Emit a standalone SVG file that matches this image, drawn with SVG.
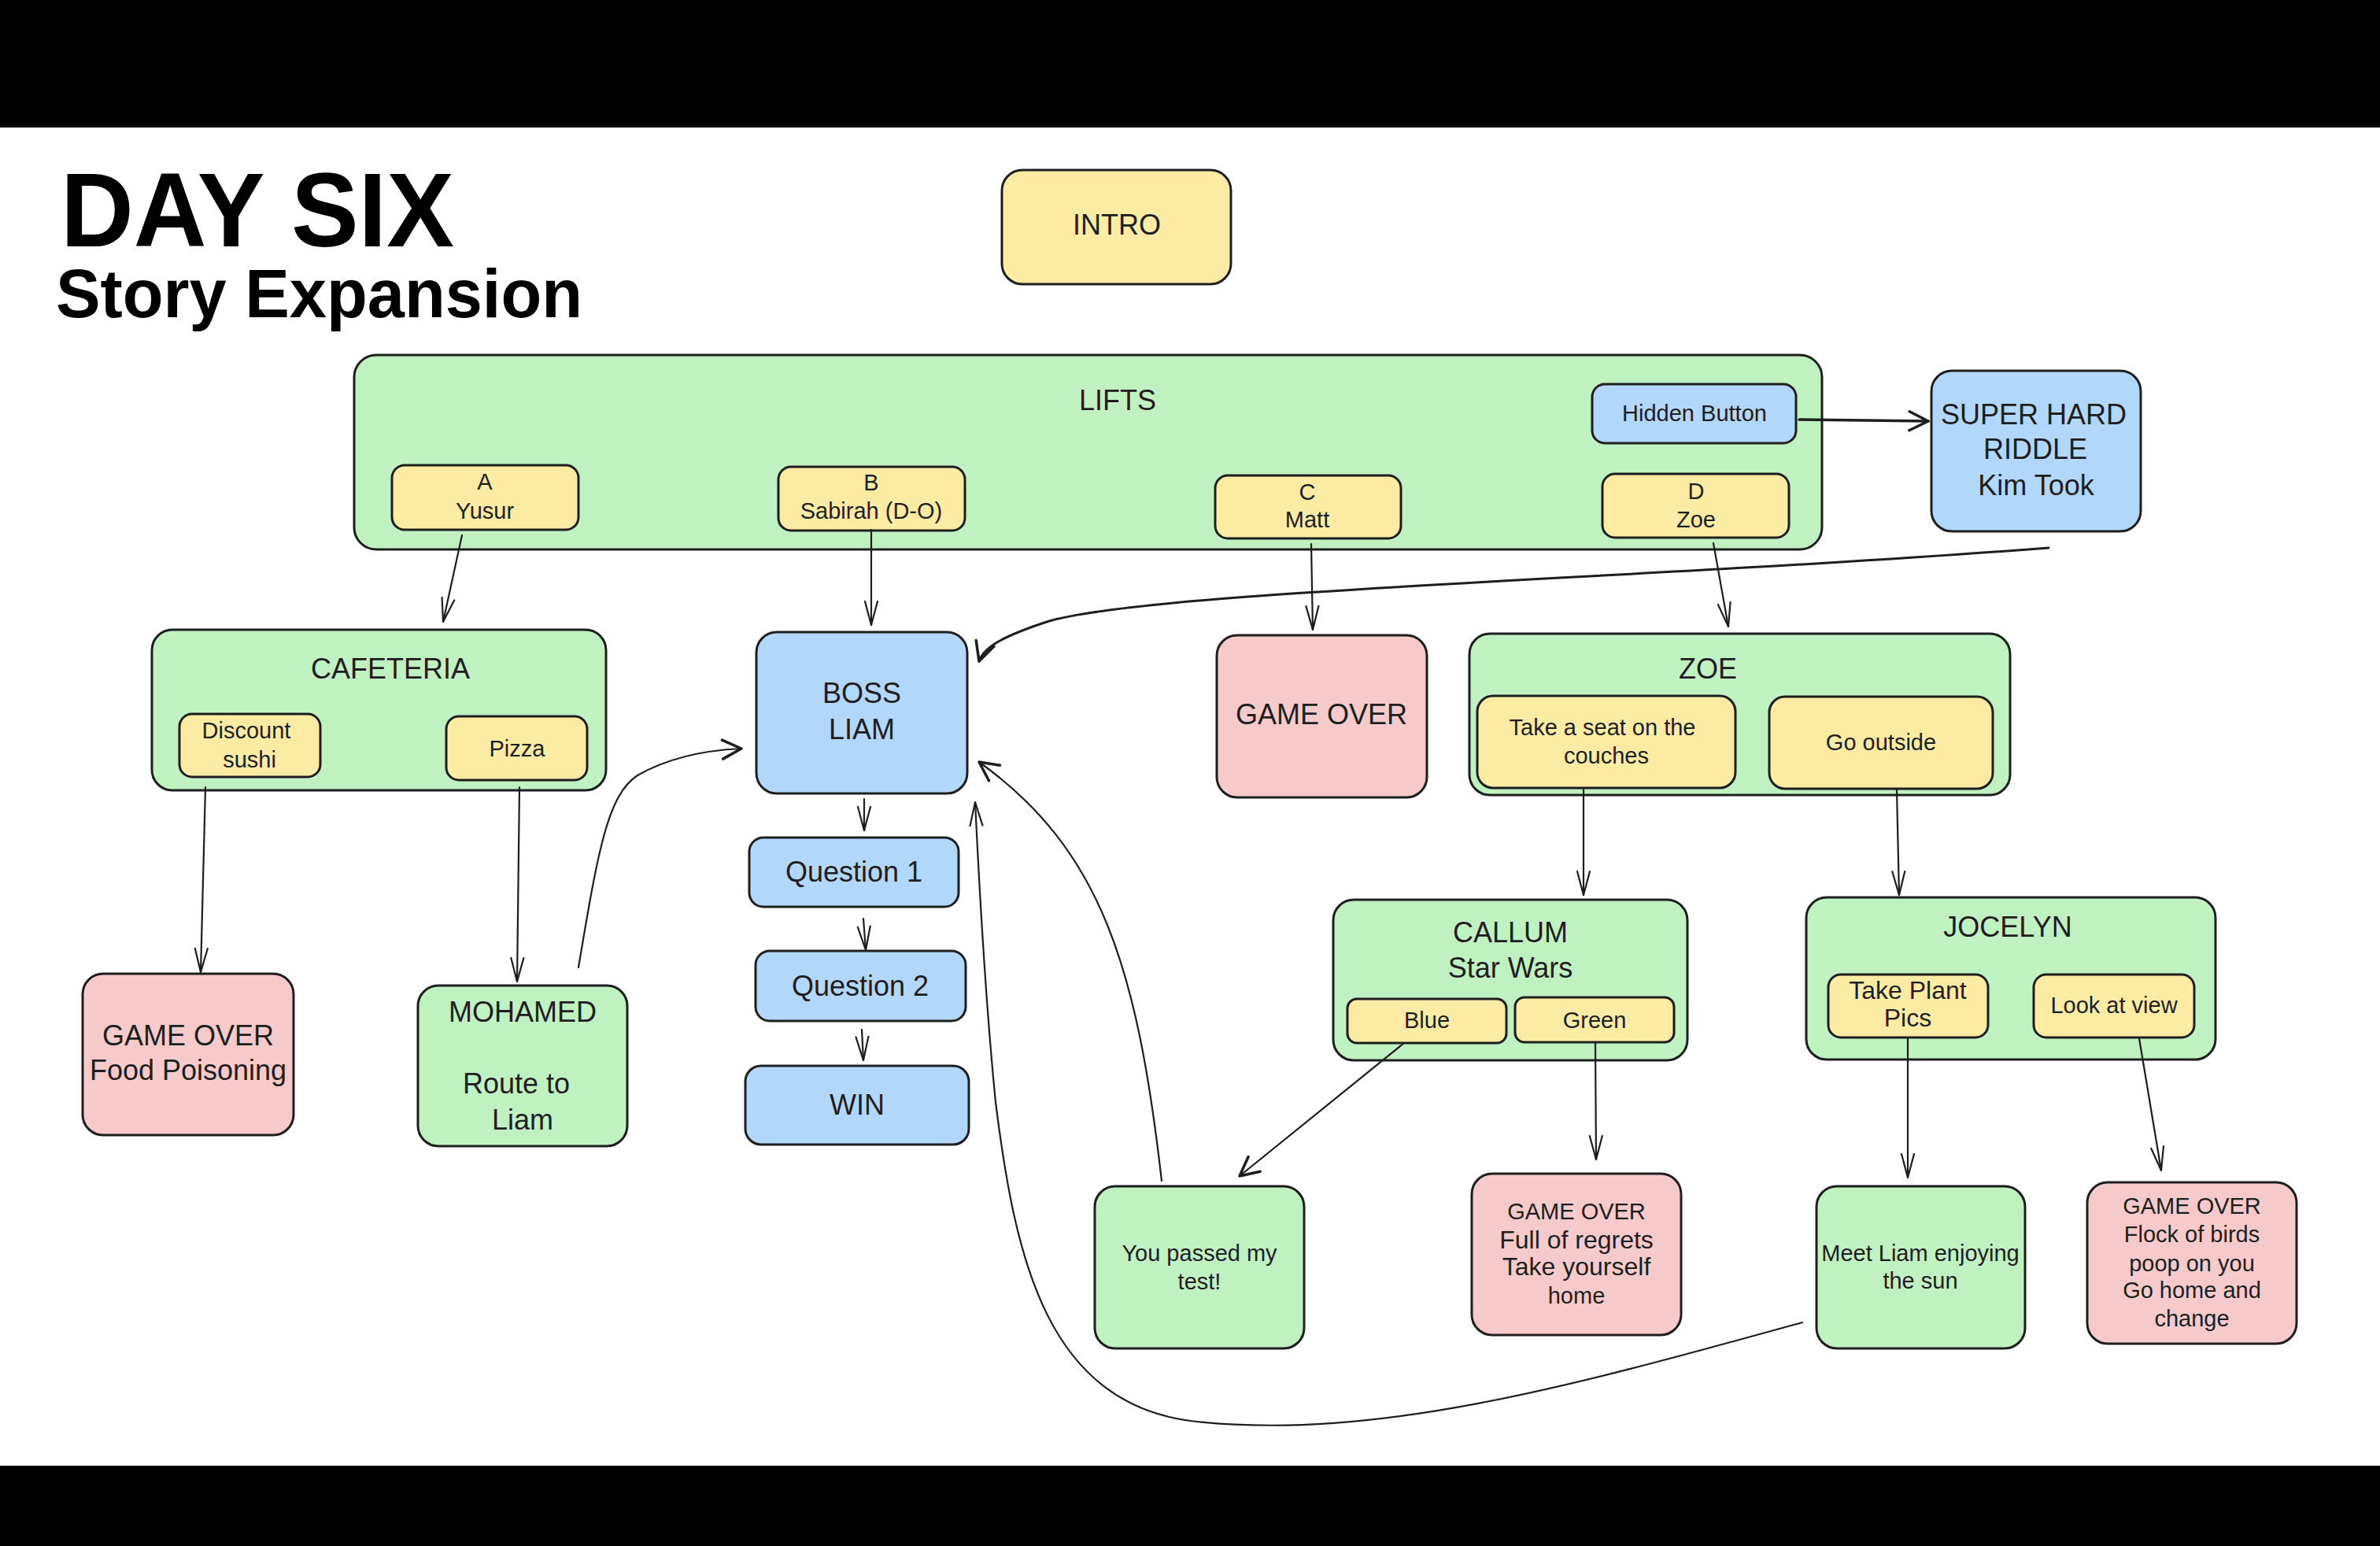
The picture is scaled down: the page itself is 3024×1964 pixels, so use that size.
<svg xmlns="http://www.w3.org/2000/svg" width="3024" height="1964" viewBox="0 0 3024 1964">
<defs>
<style>
.box{stroke:#1e1e1e;stroke-width:3;stroke-linejoin:round}
.y{fill:#fcebA2}
.g{fill:#c0f1c0}
.b{fill:#b1d7fb}
.r{fill:#f6caca}
.t{font-family:"Liberation Sans",Arial,sans-serif;fill:#1e1e1e;text-anchor:middle;dominant-baseline:central}
.s{font-size:29px}
.m{font-size:32px}
.l{font-size:36px}
.c{fill:none;stroke:#1e1e1e;stroke-width:2.2;stroke-linecap:round}
.title{font-family:"Liberation Sans",Arial,sans-serif;font-weight:bold;fill:#000}
</style>
<marker id="ah" markerUnits="userSpaceOnUse" viewBox="0 0 32 20" refX="31" refY="10" markerWidth="32" markerHeight="20" orient="auto">
<path d="M1,2 L31,10 L1,18" fill="none" stroke="#1e1e1e" stroke-width="2.2" stroke-linecap="round" stroke-linejoin="round"/>
</marker>
<marker id="ah2" markerUnits="userSpaceOnUse" viewBox="0 0 32 30" refX="30" refY="15" markerWidth="32" markerHeight="30" orient="auto">
<path d="M6,3 L30,15 L6,27" fill="none" stroke="#1e1e1e" stroke-width="3.5" stroke-linecap="round" stroke-linejoin="round"/>
</marker>
</defs>
<rect x="0" y="0" width="3024" height="1964" fill="#ffffff"/>
<rect x="0" y="0" width="3024" height="162" fill="#000000"/>
<rect x="0" y="1862" width="3024" height="102" fill="#000000"/>
<text class="title" x="77" y="313" font-size="134" textLength="500" lengthAdjust="spacingAndGlyphs">DAY SIX</text>
<text class="title" x="71" y="403" font-size="88" textLength="669" lengthAdjust="spacingAndGlyphs">Story Expansion</text>

<g id="intro"><rect class="box y" x="1273" y="216" width="291" height="145" rx="26"/><text class="t l" x="1419" y="285">INTRO</text></g>

<g id="lifts"><rect class="box g" x="450" y="451" width="1865" height="247" rx="28"/><text class="t l" x="1420" y="508">LIFTS</text></g>
<g id="lift-a"><rect class="box y" x="498" y="591" width="237" height="82" rx="16"/><text class="t s" x="616" y="612">A</text><text class="t s" x="616" y="649">Yusur</text></g>
<g id="lift-b"><rect class="box y" x="989" y="593" width="237" height="81" rx="16"/><text class="t s" x="1107" y="613">B</text><text class="t s" x="1107" y="649">Sabirah (D-O)</text></g>
<g id="lift-c"><rect class="box y" x="1544" y="604" width="236" height="80" rx="16"/><text class="t s" x="1661" y="625">C</text><text class="t s" x="1661" y="660">Matt</text></g>
<g id="lift-d"><rect class="box y" x="2036" y="602" width="237" height="81" rx="16"/><text class="t s" x="2155" y="624">D</text><text class="t s" x="2155" y="660">Zoe</text></g>
<g id="hidden-button"><rect class="box b" x="2023" y="488" width="259" height="75" rx="16"/><text class="t s" x="2153" y="525">Hidden Button</text></g>
<g id="riddle"><rect class="box b" x="2454" y="471" width="266" height="204" rx="26"/><text class="t l" x="2584" y="526">SUPER HARD</text><text class="t l" x="2586" y="570">RIDDLE</text><text class="t l" x="2587" y="616">Kim Took</text></g>

<g id="cafeteria"><rect class="box g" x="193" y="800" width="577" height="204" rx="26"/><text class="t l" x="496" y="849">CAFETERIA</text></g>
<g id="discount-sushi"><rect class="box y" x="228" y="907" width="179" height="80" rx="16"/><text class="t s" x="313" y="928">Discount</text><text class="t s" x="317" y="965">sushi</text></g>
<g id="pizza"><rect class="box y" x="567" y="910" width="179" height="81" rx="16"/><text class="t s" x="657" y="951">Pizza</text></g>
<g id="boss-liam"><rect class="box b" x="961" y="803" width="268" height="205" rx="26"/><text class="t l" x="1095" y="880">BOSS</text><text class="t l" x="1095" y="926">LIAM</text></g>
<g id="game-over-c"><rect class="box r" x="1546" y="807" width="267" height="206" rx="26"/><text class="t l" x="1679" y="907">GAME OVER</text></g>
<g id="zoe"><rect class="box g" x="1867" y="805" width="687" height="205" rx="26"/><text class="t l" x="2170" y="849">ZOE</text></g>
<g id="take-seat"><rect class="box y" x="1877" y="884" width="328" height="117" rx="20"/><text class="t s" x="2036" y="924">Take a seat on the</text><text class="t s" x="2041" y="960">couches</text></g>
<g id="go-outside"><rect class="box y" x="2248" y="885" width="284" height="117" rx="20"/><text class="t s" x="2390" y="943">Go outside</text></g>

<g id="game-over-food"><rect class="box r" x="105" y="1237" width="268" height="205" rx="26"/><text class="t l" x="239" y="1315">GAME OVER</text><text class="t l" x="239" y="1359">Food Poisoning</text></g>
<g id="mohamed"><rect class="box g" x="531" y="1252" width="266" height="204" rx="26"/><text class="t l" x="664" y="1285">MOHAMED</text><text class="t l" x="656" y="1376">Route to</text><text class="t l" x="664" y="1422">Liam</text></g>
<g id="question-1"><rect class="box b" x="952" y="1064" width="266" height="88" rx="18"/><text class="t l" x="1085" y="1107">Question 1</text></g>
<g id="question-2"><rect class="box b" x="960" y="1208" width="267" height="89" rx="18"/><text class="t l" x="1093" y="1252">Question 2</text></g>
<g id="win"><rect class="box b" x="947" y="1354" width="284" height="100" rx="20"/><text class="t l" x="1089" y="1403">WIN</text></g>

<g id="callum"><rect class="box g" x="1694" y="1143" width="450" height="204" rx="26"/><text class="t l" x="1919" y="1184">CALLUM</text><text class="t l" x="1919" y="1229">Star Wars</text></g>
<g id="blue"><rect class="box y" x="1712" y="1269" width="202" height="56" rx="12"/><text class="t s" x="1813" y="1296">Blue</text></g>
<g id="green"><rect class="box y" x="1925" y="1267" width="202" height="57" rx="12"/><text class="t s" x="2026" y="1296">Green</text></g>
<g id="jocelyn"><rect class="box g" x="2295" y="1140" width="520" height="206" rx="26"/><text class="t l" x="2551" y="1177">JOCELYN</text></g>
<g id="take-plant-pics"><rect class="box y" x="2323" y="1238" width="203" height="80" rx="16"/><text class="t m" x="2424" y="1258">Take Plant</text><text class="t m" x="2424" y="1293">Pics</text></g>
<g id="look-at-view"><rect class="box y" x="2584" y="1238" width="204" height="80" rx="16"/><text class="t s" x="2686" y="1277">Look at view</text></g>

<g id="you-passed"><rect class="box g" x="1391" y="1507" width="266" height="206" rx="26"/><text class="t s" x="1524" y="1592">You passed my</text><text class="t s" x="1524" y="1628">test!</text></g>
<g id="game-over-regrets"><rect class="box r" x="1870" y="1491" width="266" height="205" rx="26"/><text class="t s" x="2003" y="1539">GAME OVER</text><text class="t m" x="2003" y="1575">Full of regrets</text><text class="t m" x="2003" y="1609">Take yourself</text><text class="t s" x="2003" y="1646">home</text></g>
<g id="meet-liam"><rect class="box g" x="2308" y="1507" width="265" height="206" rx="26"/><text class="t s" x="2440" y="1592">Meet Liam enjoying</text><text class="t s" x="2440" y="1627">the sun</text></g>
<g id="game-over-birds"><rect class="box r" x="2652" y="1502" width="266" height="205" rx="26"/><text class="t s" x="2785" y="1532">GAME OVER</text><text class="t s" x="2785" y="1568">Flock of birds</text><text class="t s" x="2785" y="1605">poop on you</text><text class="t s" x="2785" y="1639">Go home and</text><text class="t s" x="2785" y="1675">change</text></g>

<g id="connectors">
<path class="c" marker-end="url(#ah)" d="M587,680 L563,790"/>
<path class="c" marker-end="url(#ah)" d="M1107,673 L1107,794"/>
<path class="c" marker-end="url(#ah)" d="M1666,691 L1668,800"/>
<path class="c" marker-end="url(#ah)" d="M2177,690 L2196,796"/>
<path class="c" style="stroke-width:3.5" marker-end="url(#ah2)" d="M2286,533 L2450,535"/>
<path class="c" style="stroke-width:3" marker-end="url(#ah2)" d="M2603,696 C2100,735 1460,750 1330,790 C1275,808 1250,822 1244,840"/>
<path class="c" marker-end="url(#ah)" d="M261,1000 L255,1235"/>
<path class="c" marker-end="url(#ah)" d="M660,1000 L657,1247"/>
<path class="c" marker-end="url(#ah2)" d="M735,1229 C760,1080 772,1010 810,985 C850,962 900,953 942,951"/>
<path class="c" marker-end="url(#ah)" d="M1098,1015 L1098,1055"/>
<path class="c" marker-end="url(#ah)" d="M1097,1167 L1100,1207"/>
<path class="c" marker-end="url(#ah)" d="M1095,1308 L1097,1347"/>
<path class="c" marker-end="url(#ah)" d="M2012,1003 L2012,1137"/>
<path class="c" marker-end="url(#ah)" d="M2410,1003 L2413,1137"/>
<path class="c" marker-end="url(#ah2)" d="M1784,1325 L1575,1494"/>
<path class="c" marker-end="url(#ah)" d="M2027,1325 L2028,1473"/>
<path class="c" marker-end="url(#ah)" d="M2424,1319 L2424,1496"/>
<path class="c" marker-end="url(#ah)" d="M2718,1319 L2746,1487"/>
<path class="c" marker-end="url(#ah2)" d="M1476,1500 C1445,1230 1400,1080 1244,968"/>
<path class="c" marker-end="url(#ah)" d="M2290,1680 C2000,1760 1750,1830 1520,1806 C1330,1785 1290,1600 1265,1400 C1250,1250 1243,1100 1239,1019"/>
</g>
</svg>
